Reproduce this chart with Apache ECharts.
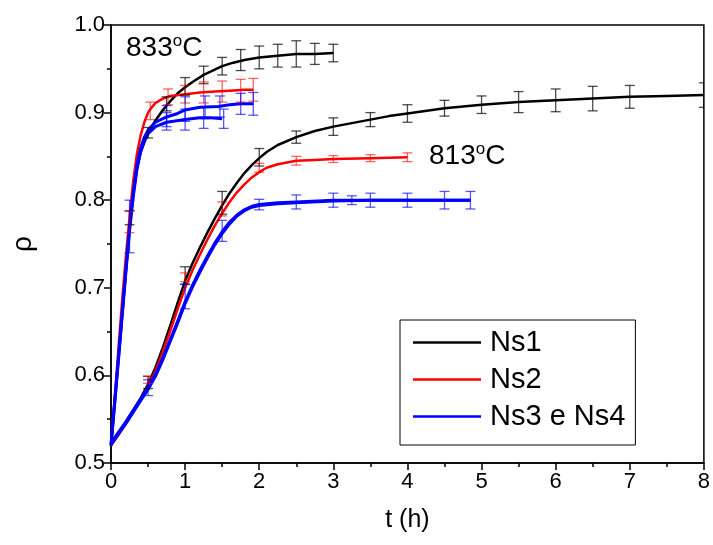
<!DOCTYPE html>
<html>
<head>
<meta charset="utf-8">
<script src="https://cdn.jsdelivr.net/npm/echarts@6/dist/echarts.min.js"></script>
<style>html,body{margin:0;padding:0;background:#fff}#c{width:713px;height:545px}</style>
</head>
<body>
<div id="c"></div>
<script>
// ---- data (t in h, rho) ----
const xTicks = [0,1,2,3,4,5,6,7,8];
const yTicks = [0.5,0.6,0.7,0.8,0.9,1.0];
const legendNames = ['Ns1','Ns2','Ns3 e Ns4'];

// 833 C curves
const ns1_833 = [[0,0.52],[0.05,0.57],[0.1,0.62],[0.15,0.67],[0.2,0.72],[0.25,0.77],[0.3,0.808],[0.35,0.836],[0.4,0.855],[0.45,0.867],[0.5,0.877],[0.6,0.891],[0.7,0.903],[0.8,0.913],[0.9,0.922],[1.0,0.929],[1.1,0.935],[1.25,0.943],[1.4,0.949],[1.5,0.953],[1.65,0.957],[1.8,0.96],[2.0,0.963],[2.25,0.965],[2.5,0.967],[2.75,0.967],[3.0,0.968]];
const ns2_833 = [[0,0.52],[0.05,0.575],[0.1,0.63],[0.15,0.685],[0.2,0.735],[0.25,0.78],[0.3,0.822],[0.35,0.853],[0.4,0.874],[0.45,0.889],[0.5,0.9],[0.55,0.906],[0.6,0.911],[0.7,0.916],[0.8,0.919],[1.0,0.921],[1.2,0.923],[1.4,0.924],[1.6,0.925],[1.8,0.926],[1.92,0.926]];
const ns3_833 = [[0,0.52],[0.05,0.57],[0.1,0.62],[0.15,0.67],[0.2,0.72],[0.25,0.768],[0.3,0.808],[0.35,0.84],[0.4,0.86],[0.45,0.872],[0.5,0.88],[0.6,0.889],[0.75,0.895],[0.9,0.899],[1.0,0.903],[1.2,0.906],[1.45,0.907],[1.6,0.909],[1.75,0.91],[1.92,0.91]];
const ns4_833 = [[0,0.52],[0.05,0.568],[0.1,0.617],[0.15,0.667],[0.2,0.717],[0.25,0.765],[0.3,0.804],[0.35,0.835],[0.4,0.855],[0.45,0.867],[0.5,0.876],[0.6,0.884],[0.75,0.889],[1.0,0.892],[1.2,0.894],[1.35,0.894],[1.5,0.893]];

// 813 C curves
const ns1_813 = [[0,0.522],[0.1,0.534],[0.2,0.547],[0.3,0.56],[0.4,0.574],[0.5,0.59],[0.6,0.609],[0.7,0.632],[0.8,0.657],[0.9,0.683],[1.0,0.708],[1.1,0.728],[1.2,0.746],[1.3,0.763],[1.4,0.779],[1.5,0.794],[1.6,0.808],[1.7,0.82],[1.8,0.831],[1.9,0.84],[2.0,0.848],[2.1,0.855],[2.25,0.863],[2.5,0.872],[2.75,0.879],[3.0,0.884],[3.25,0.888],[3.5,0.892],[3.75,0.896],[4.0,0.899],[4.5,0.905],[5.0,0.909],[5.5,0.912],[6.0,0.914],[6.5,0.916],[7.0,0.918],[7.5,0.919],[8.0,0.92]];
const ns2_813 = [[0,0.52],[0.1,0.532],[0.2,0.545],[0.3,0.558],[0.4,0.572],[0.5,0.588],[0.6,0.605],[0.7,0.627],[0.8,0.651],[0.9,0.676],[1.0,0.7],[1.1,0.72],[1.2,0.738],[1.3,0.755],[1.4,0.771],[1.5,0.785],[1.6,0.798],[1.7,0.809],[1.8,0.818],[1.9,0.826],[2.0,0.832],[2.1,0.837],[2.25,0.841],[2.5,0.845],[2.75,0.846],[3.0,0.847],[3.5,0.848],[4.0,0.849]];
const ns3_813 = [[0,0.523],[0.1,0.535],[0.2,0.547],[0.3,0.56],[0.4,0.573],[0.5,0.586],[0.6,0.601],[0.7,0.62],[0.8,0.641],[0.9,0.662],[1.0,0.684],[1.1,0.703],[1.2,0.72],[1.3,0.736],[1.4,0.751],[1.5,0.764],[1.6,0.775],[1.7,0.783],[1.8,0.789],[1.9,0.793],[2.0,0.795],[2.25,0.797],[2.5,0.798],[3.0,0.8],[3.5,0.8],[4.0,0.8],[4.5,0.8],[4.85,0.8]];
const ns4_813 = [[0,0.521],[0.1,0.533],[0.2,0.545],[0.3,0.558],[0.4,0.571],[0.5,0.584],[0.6,0.599],[0.7,0.618],[0.8,0.639],[0.9,0.66],[1.0,0.682],[1.1,0.701],[1.2,0.718],[1.3,0.734],[1.4,0.749],[1.5,0.762],[1.6,0.773],[1.7,0.782],[1.8,0.788],[1.9,0.792],[2.0,0.794],[2.25,0.796],[2.5,0.797],[3.0,0.799],[3.5,0.8],[4.0,0.8],[4.5,0.8],[4.85,0.8]];

// error bars [t, rho, halfError]
const ns1_err = [[0.25,0.78,0.008],[0.5,0.877,0.006],[0.75,0.91,0.008],[1.0,0.93,0.01],[1.25,0.943,0.01],[1.5,0.953,0.01],[1.75,0.96,0.012],[2.0,0.963,0.013],[2.25,0.965,0.013],[2.5,0.967,0.015],[2.75,0.967,0.012],[3.0,0.968,0.01],
  [0.5,0.592,0.007],[1.0,0.714,0.01],[1.5,0.797,0.013],[2.0,0.849,0.01],[2.5,0.872,0.007],[3.0,0.884,0.01],[3.5,0.892,0.008],[4.0,0.899,0.01],[4.5,0.905,0.009],[5.0,0.909,0.01],[5.5,0.912,0.012],[6.0,0.914,0.013],[6.5,0.916,0.014],[7.0,0.918,0.013],[8.0,0.92,0.014]];
const ns2_err = [[0.25,0.775,0.012],[0.53,0.902,0.01],[0.77,0.918,0.009],[1.0,0.921,0.01],[1.25,0.923,0.012],[1.5,0.924,0.012],[1.75,0.925,0.013],[1.92,0.926,0.013],
  [0.5,0.595,0.004],[1.0,0.712,0.005],[1.5,0.79,0.008],[2.0,0.837,0.005],[2.5,0.845,0.005],[3.0,0.847,0.004],[3.5,0.848,0.004],[4.0,0.849,0.005]];
const ns34_err = [[0.25,0.77,0.03],[0.75,0.896,0.012],[1.0,0.904,0.014],[1.27,0.906,0.013],[1.47,0.907,0.012],[1.75,0.91,0.012],[1.92,0.91,0.013],
  [0.75,0.89,0.01],[1.0,0.892,0.012],[1.25,0.894,0.012],[1.52,0.893,0.011],
  [0.5,0.586,0.009],[1.0,0.69,0.014],[1.5,0.765,0.012],[2.0,0.795,0.006],[2.5,0.798,0.008],[3.0,0.8,0.008],[3.25,0.8,0.005],[3.5,0.8,0.008],[4.0,0.8,0.008],[4.5,0.8,0.01],[4.85,0.8,0.01]];

const FONT = "'Liberation Sans', Arial, sans-serif";

function errRender(color) {
  return function (params, api) {
    const x = api.value(0), y = api.value(1), e = api.value(2);
    const top = api.coord([x, y + e]);
    const bot = api.coord([x, y - e]);
    const hw = 5;
    const st = { stroke: color, lineWidth: 1.3 };
    return {
      type: 'group',
      children: [
        { type: 'line', shape: { x1: top[0], y1: top[1], x2: bot[0], y2: bot[1] }, style: st },
        { type: 'line', shape: { x1: top[0] - hw, y1: top[1], x2: top[0] + hw, y2: top[1] }, style: st },
        { type: 'line', shape: { x1: bot[0] - hw, y1: bot[1], x2: bot[0] + hw, y2: bot[1] }, style: st }
      ]
    };
  };
}

function lineSeries(name, data, color, width) {
  return {
    type: 'line', name: name, data: data, symbol: 'none', showSymbol: false,
    smooth: false,
    lineStyle: { color: color, width: width, join: 'round' }, itemStyle: { color: color },
    z: 3, animation: false, silent: true
  };
}
function errSeries(name, data, color) {
  return {
    type: 'custom', name: name, data: data, renderItem: errRender(color),
    clip: true, z: 4, animation: false, silent: true
  };
}

const chart = echarts.init(document.getElementById('c'), null, { renderer: 'canvas' });
chart.setOption({
  backgroundColor: '#fff',
  animation: false,
  grid: { left: 111, right: 8, top: 25, bottom: 82, show: true, borderColor: '#000', borderWidth: 1.5, backgroundColor: 'transparent' },
  xAxis: {
    type: 'value', min: xTicks[0], max: xTicks[xTicks.length - 1], interval: 1,
    name: 't (h)', nameLocation: 'middle', nameGap: 45,
    nameTextStyle: { fontFamily: FONT, fontSize: 25, color: '#000' },
    axisLine: { show: true, onZero: false, lineStyle: { color: '#000', width: 1.5 } },
    axisTick: { show: true, length: 7, lineStyle: { color: '#000', width: 1.5 } },
    minorTick: { show: true, splitNumber: 2, length: 4, lineStyle: { color: '#000', width: 1.5 } },
    axisLabel: { fontFamily: FONT, fontSize: 22, color: '#000', margin: 8 },
    splitLine: { show: false }
  },
  yAxis: {
    type: 'value', min: yTicks[0], max: yTicks[yTicks.length - 1], interval: 0.1,
    name: 'ρ', nameLocation: 'middle', nameGap: 74, nameRotate: 90,
    nameTextStyle: { fontFamily: FONT, fontSize: 28, color: '#000' },
    axisLine: { show: true, onZero: false, lineStyle: { color: '#000', width: 1.5 } },
    axisTick: { show: true, length: 7, lineStyle: { color: '#000', width: 1.5 } },
    minorTick: { show: true, splitNumber: 2, length: 4, lineStyle: { color: '#000', width: 1.5 } },
    axisLabel: { fontFamily: FONT, fontSize: 22, color: '#000', margin: 6, formatter: v => v.toFixed(1) },
    splitLine: { show: false }
  },
  legend: {
    data: legendNames, orient: 'vertical', left: 400, top: 320,
    icon: 'rect', itemWidth: 68, itemHeight: 2.5,
    backgroundColor: '#fff', borderColor: '#000', borderWidth: 1,
    padding: [8, 10, 14, 13], itemGap: 8,
    textStyle: { fontFamily: FONT, fontSize: 29, color: '#000', padding: [0, 0, 0, 4] },
    selectedMode: false
  },
  graphic: [
    { type: 'text', left: 126, top: 33, z: 10,
      style: { text: '{a|833}{b|o}{a|C}', rich: {
        a: { fontFamily: FONT, fontSize: 28, fill: '#000', lineHeight: 30 },
        b: { fontFamily: FONT, fontSize: 17, fill: '#000', verticalAlign: 'top', lineHeight: 16 } } } },
    { type: 'text', left: 429, top: 141, z: 10,
      style: { text: '{a|813}{b|o}{a|C}', rich: {
        a: { fontFamily: FONT, fontSize: 28, fill: '#000', lineHeight: 30 },
        b: { fontFamily: FONT, fontSize: 17, fill: '#000', verticalAlign: 'top', lineHeight: 16 } } } }
  ],
  series: [
    errSeries('e1', ns1_err, 'rgba(0,0,0,0.7)'),
    errSeries('e2', ns2_err, 'rgba(255,0,0,0.6)'),
    errSeries('e34', ns34_err, 'rgba(0,0,255,0.65)'),
    lineSeries('Ns1', ns1_813, '#000', 2.5),
    lineSeries('Ns2', ns2_813, '#ff0000', 2.5),
    lineSeries('Ns3 e Ns4', ns3_813, '#0000ff', 3),
    lineSeries('Ns3 e Ns4', ns4_813, '#0000ff', 3),
    lineSeries('Ns1', ns1_833, '#000', 2.5),
    lineSeries('Ns2', ns2_833, '#ff0000', 2.5),
    lineSeries('Ns3 e Ns4', ns3_833, '#0000ff', 3),
    lineSeries('Ns3 e Ns4', ns4_833, '#0000ff', 3)
  ]
});
</script>
</body>
</html>
